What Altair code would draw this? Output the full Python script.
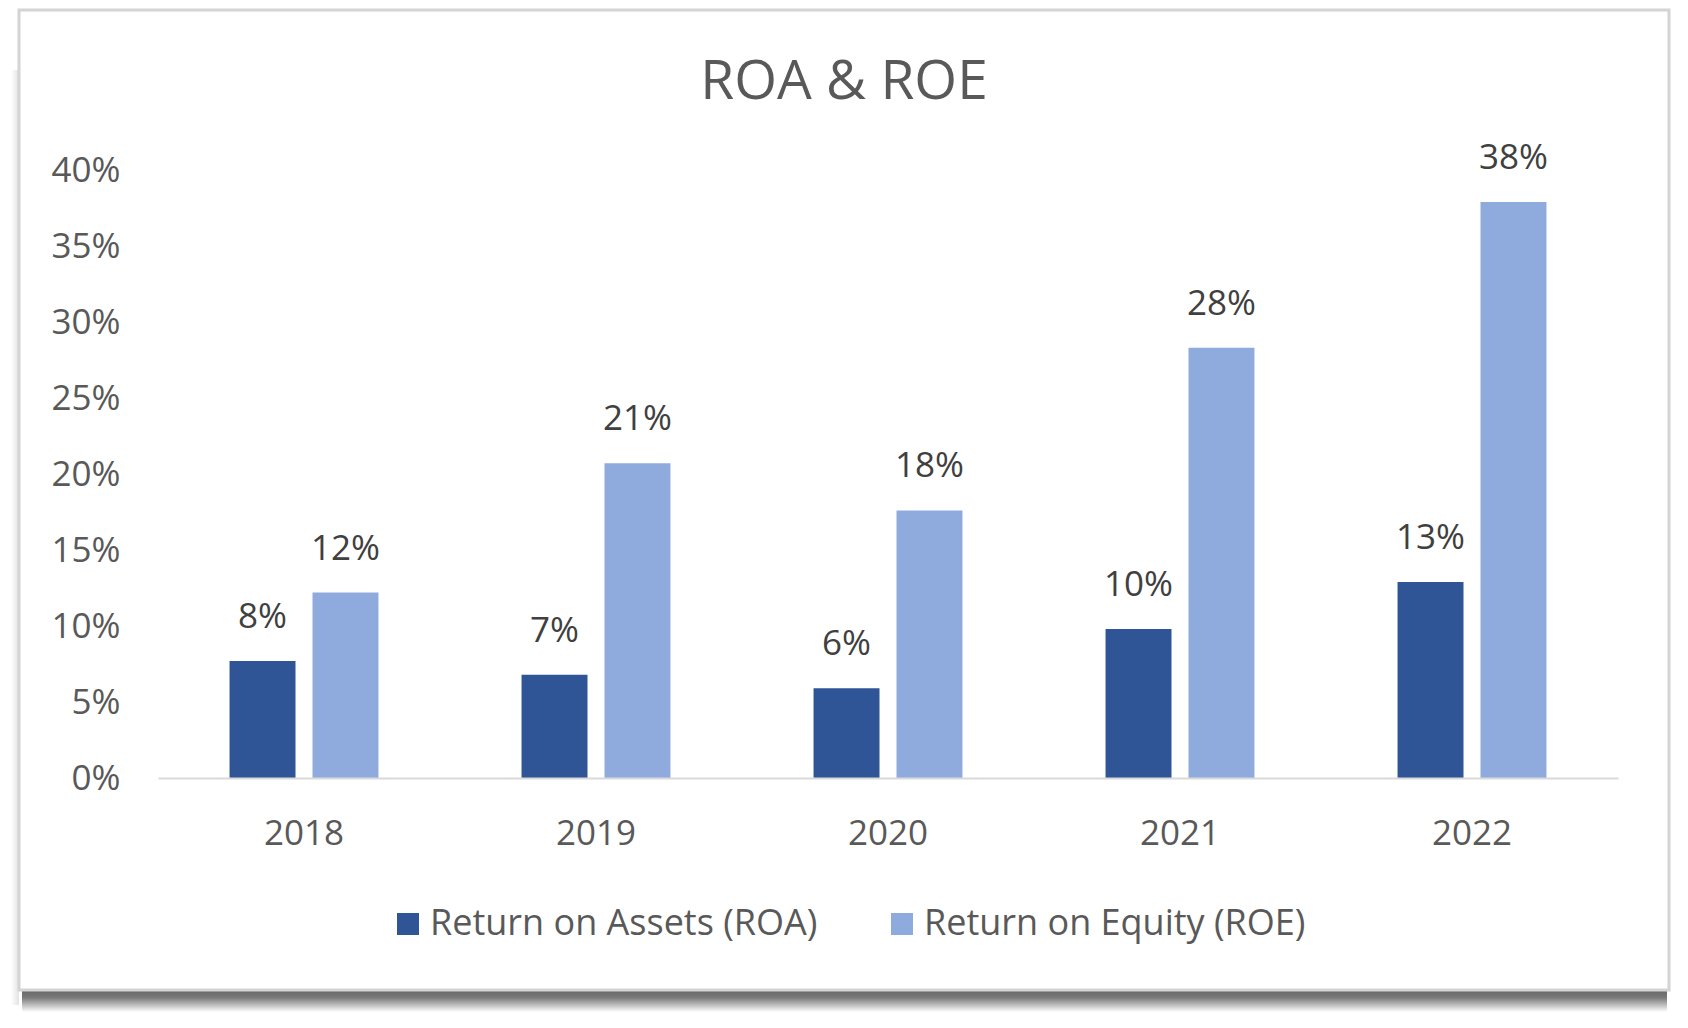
import altair as alt
import pandas as pd

title_text = "ROA & ROE"
years = ["2018", "2019", "2020", "2021", "2022"]
roa = [0.077, 0.068, 0.059, 0.098, 0.129]
roe = [0.122, 0.207, 0.176, 0.283, 0.379]
series_names = ["Return on Assets (ROA)", "Return on Equity (ROE)"]
series_colors = ["#2F5597", "#8FAADC"]
y_ticks = [0, 0.05, 0.10, 0.15, 0.20, 0.25, 0.30, 0.35, 0.40]

rows = []
for i, yr in enumerate(years):
    rows.append({"year": yr, "series": series_names[0], "value": roa[i]})
    rows.append({"year": yr, "series": series_names[1], "value": roe[i]})
df = pd.DataFrame(rows)
frame_df = pd.DataFrame({"k": [0]})
title_df = pd.DataFrame({"t": [title_text]})

FONT = "Open Sans"
TXT = "#595959"

W, H = 1460, 608

shadow = alt.Chart(frame_df).mark_rect(
    fill=alt.Gradient(
        gradient="linear",
        stops=[alt.GradientStop(color="#666666", offset=0),
               alt.GradientStop(color="#7a7a7a", offset=0.35),
               alt.GradientStop(color="#ffffff", offset=1)],
        x1=0, x2=0, y1=0, y2=1,
    )
).encode(
    x=alt.value(-136), x2=alt.value(1509), y=alt.value(820), y2=alt.value(842)
)

left_shadow = alt.Chart(frame_df).mark_rect(
    fill=alt.Gradient(
        gradient="linear",
        stops=[alt.GradientStop(color="#ffffff", offset=0),
               alt.GradientStop(color="#e2e2e2", offset=1)],
        x1=0, x2=1, y1=0, y2=0,
    )
).encode(
    x=alt.value(-147), x2=alt.value(-139), y=alt.value(-100), y2=alt.value(835)
)

frame = alt.Chart(frame_df).mark_rect(
    fill="white", stroke="#d4d4d4", strokeWidth=3
).encode(
    x=alt.value(-139), x2=alt.value(1511), y=alt.value(-160), y2=alt.value(820)
)

title = alt.Chart(title_df).mark_text(
    font=FONT, fontSize=55, color=TXT, align="center", baseline="alphabetic"
).encode(text="t:N", x=alt.value(686), y=alt.value(-71))

base = alt.Chart(df).encode(
    x=alt.X("year:N", sort=years,
            scale=alt.Scale(paddingInner=0.49, paddingOuter=0.245),
            axis=alt.Axis(title=None, labelAngle=0, ticks=False,
                          domainColor="#d9d9d9", domainWidth=2,
                          labelPadding=38, labelFont=FONT, labelFontSize=35,
                          labelColor=TXT, zindex=2)),
    xOffset=alt.XOffset("series:N", sort=series_names,
                        scale=alt.Scale(paddingInner=0.205, paddingOuter=0)),
    y=alt.Y("value:Q", scale=alt.Scale(domain=[0, 0.4]),
            axis=alt.Axis(title=None, values=y_ticks, format=".0%",
                          domain=False, ticks=False, grid=False,
                          labelPadding=38, labelFont=FONT, labelFontSize=35,
                          labelColor=TXT, zindex=2)),
)

bars = base.mark_bar().encode(
    color=alt.Color("series:N", sort=series_names,
                    scale=alt.Scale(domain=series_names, range=series_colors),
                    legend=alt.Legend(title=None, orient="none",
                                      direction="horizontal",
                                      legendX=232, legendY=736,
                                      symbolType="square", symbolSize=484,
                                      symbolStrokeWidth=0,
                                      labelFont=FONT, labelFontSize=36,
                                      labelColor=TXT, labelOffset=4,
                                      labelLimit=0,
                                      columnPadding=66, zindex=2))
)

labels = base.mark_text(
    font=FONT, fontSize=35, color="#404040", baseline="middle", dy=-44
).encode(text=alt.Text("value:Q", format=".0%"))

chart = alt.layer(shadow, left_shadow, frame, title, bars, labels).properties(
    width=W, height=H,
    autosize=alt.AutoSizeParams(type="none"),
    padding={"left": 150, "top": 162, "right": 62, "bottom": 242},
).configure_view(stroke=None).configure(background="white")

chart.save("out.html", embed_options={"renderer": "svg", "actions": False})
